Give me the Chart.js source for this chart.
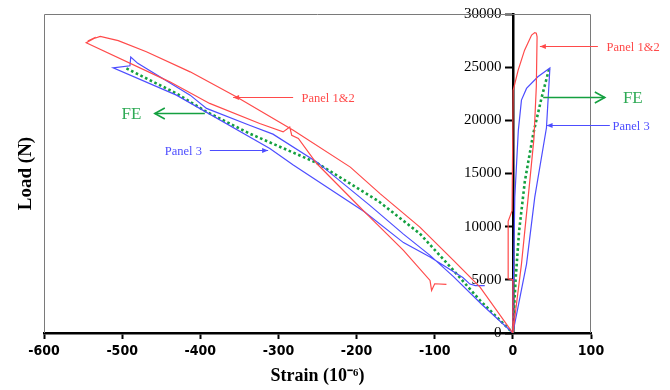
<!DOCTYPE html>
<html><head><meta charset="utf-8">
<script src="https://cdn.jsdelivr.net/npm/chart.js@4.4.1/dist/chart.umd.min.js"></script>
<style>html,body{margin:0;padding:0;background:#fff}canvas{display:block}</style>
</head><body>
<canvas id="c" width="670" height="390"></canvas>
<script>
// ---- data (strain in 1e-6, load in N) ----
const xTicks = [-600, -500, -400, -300, -200, -100, 0, 100];
const yTicks = [0, 5000, 10000, 15000, 20000, 25000, 30000];

const panel12Strain = [-85, -100, -104, -106, -140, -183, -196, -251, -274.5, -283, -285.5, -294, -324, -388, -439, -546, -536, -544, -534, -540, -528, -505, -469, -413, -354, -281, -208, -170, -119, -76, -42, 0,
  0, -6, -6, -1, 0.4, 6.8, 15, 24, 28, 30, 31, 30, 27, 19.6, 11, 0];
const panel12Load = [4570, 4630, 4000, 4940, 7770, 10900, 11850, 15940, 18290, 18600, 19380, 18910, 19700, 21590, 23620, 27300, 27700, 27450, 27800, 27600, 27900, 27500, 26450, 24560, 22210, 19070, 15600, 13110, 9960, 6830, 4310, 0,
  5000, 5100, 10500, 11500, 22830, 24720, 26600, 28020, 28250, 28200, 27860, 23140, 18300, 12760, 6480, 0];

const panel3Strain = [-36, -48, -55, -64, -106, -140, -190, -281, -311, -430.5, -511.5, -490, -489, -480, -413, -392, -337, -307, -251, -183, -140, -106, -76, -40, 0,
  0.5, 3, 0.8, 2.5, 7, 11, 17.5, 32, 47.4, 43, 28, 17.5, 0];
const panel3Load = [4450, 4450, 4600, 5220, 7140, 8500, 11400, 15810, 17350, 22370, 24940, 25130, 25950, 25360, 22370, 21120, 19540, 18700, 16090, 12000, 9300, 7300, 5300, 2700, 0,
  5000, 5000, 5000, 12760, 19060, 21900, 23000, 24100, 24930, 19300, 12760, 6480, 0];

const feStrain = [-494.5, -430.5, -392, -337, -251, -172, -119, -76, -42, 0, 3.5, 8, 15.4, 26, 37, 46.5];
const feLoad = [24880, 22530, 20800, 18760, 16000, 12400, 9340, 5890, 3060, 0, 5000, 9600, 14300, 18700, 22200, 24870];

// ---- annotations (in data units) ----
const noteText = ['Panel 1&2', 'FE', 'Panel 3', 'Panel 1&2', 'FE', 'Panel 3'];
const noteY = [27000, 22150, 19540, 22210, 20650, 17190];
const noteTail = [108.8, 38.8, 124.1, -281.2, -394.2, -387.8];
const noteTip = [34.6, 117.7, 43.1, -358, -458.2, -313.2];
const noteTextX = [119.9, 140.8, 127.6, -270.4, -500.8, -445.4];
const noteKind = ['panel12', 'fe', 'panel3', 'panel12', 'fe', 'panel3'];

const RED = '#ff4a4a', BLUE = '#4d4dff', GREEN = '#14a040', GREEN_T = '#2eaa55';
const kindColor = {panel12: RED, fe: GREEN, panel3: BLUE};
const kindText = {panel12: RED, fe: GREEN_T, panel3: BLUE};

const toPts = (xs, ys) => xs.map((v, i) => ({x: v, y: ys[i]}));

const framePlugin = {
  id: 'frame',
  beforeDatasetsDraw(chart) {
    const {ctx, chartArea: a} = chart;
    ctx.save();
    ctx.strokeStyle = '#7a7a7a';
    ctx.lineWidth = 1;
    ctx.beginPath();
    ctx.moveTo(a.left + 0.5, a.bottom);
    ctx.lineTo(a.left + 0.5, a.top + 0.5);
    ctx.lineTo(a.right - 0.5, a.top + 0.5);
    ctx.lineTo(a.right - 0.5, a.bottom);
    ctx.stroke();
    ctx.restore();
  }
};

const notePlugin = {
  id: 'notes',
  afterDatasetsDraw(chart) {
    const {ctx, scales: {x, y}} = chart;
    ctx.save();
    noteText.forEach((t, i) => {
      const k = noteKind[i];
      const py = Math.round(y.getPixelForValue(noteY[i])) + 0.5;
      const x0 = x.getPixelForValue(noteTail[i]);
      const x1 = x.getPixelForValue(noteTip[i]);
      const dir = Math.sign(x1 - x0);
      ctx.strokeStyle = kindColor[k];
      ctx.fillStyle = kindColor[k];
      ctx.lineWidth = k === 'fe' ? 1.6 : 1.1;
      ctx.beginPath();
      ctx.moveTo(x0, py); ctx.lineTo(x1, py); ctx.stroke();
      if (k === 'fe') {
        ctx.beginPath();
        ctx.moveTo(x1 - dir * 10, py - 5.5);
        ctx.lineTo(x1, py);
        ctx.lineTo(x1 - dir * 10, py + 5.5);
        ctx.stroke();
      } else {
        ctx.beginPath();
        ctx.moveTo(x1, py);
        ctx.lineTo(x1 - dir * 6, py - 2.5);
        ctx.lineTo(x1 - dir * 6, py + 2.5);
        ctx.closePath();
        ctx.fill();
      }
      ctx.fillStyle = kindText[k];
      ctx.font = (k === 'fe' ? '17px' : '12.5px') + " 'Liberation Serif', 'Times New Roman', serif";
      ctx.textAlign = 'left';
      ctx.textBaseline = 'middle';
      ctx.fillText(t, x.getPixelForValue(noteTextX[i]), py + 1);
    });
    ctx.restore();
  }
};

new Chart(document.getElementById('c'), {
  type: 'scatter',
  data: {
    datasets: [
      {label: 'Panel 1&2', data: toPts(panel12Strain, panel12Load), showLine: true, borderColor: RED, borderWidth: 1.2, pointRadius: 0, tension: 0},
      {label: 'Panel 3', data: toPts(panel3Strain, panel3Load), showLine: true, borderColor: BLUE, borderWidth: 1.2, pointRadius: 0, tension: 0},
      {label: 'FE', data: toPts(feStrain, feLoad), showLine: true, borderColor: GREEN, borderWidth: 2.6, borderDash: [2.6, 2.6], pointRadius: 0, tension: 0}
    ]
  },
  options: {
    responsive: false,
    animation: false,
    devicePixelRatio: 1,
    layout: {padding: {left: 0, right: 79, top: 14, bottom: 0}},
    plugins: {legend: {display: false}, tooltip: {enabled: false}},
    scales: {
      x: {
        type: 'linear', position: 'bottom', min: -600, max: 100,
        afterBuildTicks: s => { s.ticks = xTicks.map(v => ({value: v})); },
        afterFit: s => { s.height = 57; },
        ticks: {color: '#000', padding: 4, maxRotation: 0, callback: v => String(v), font: {family: "'Liberation Sans Narrow', 'DejaVu Sans Condensed', sans-serif", size: 14, weight: 'bold'}},
        grid: {drawOnChartArea: false, drawTicks: true, tickLength: 6, tickColor: '#000', tickWidth: 2},
        border: {color: '#000', width: 2.5},
        title: {display: true, text: 'Strain (10\u207B\u2076)', color: '#000', padding: {top: 0, bottom: 3}, font: {family: "'Liberation Serif', 'Times New Roman', serif", size: 18, weight: 'bold'}}
      },
      y: {
        type: 'linear', position: {x: 0}, min: 0, max: 30000,
        afterBuildTicks: s => { s.ticks = yTicks.map(v => ({value: v})); },
        ticks: {color: '#000', padding: 2, callback: v => String(v) + '   ', font: {family: "'Liberation Serif', 'Times New Roman', serif", size: 15}},
        grid: {drawOnChartArea: false, drawTicks: true, tickLength: 7, tickColor: '#000', tickWidth: 2},
        border: {color: '#000', width: 2.5}
      },
      yl: {
        type: 'linear', position: 'left', min: 0, max: 30000,
        afterFit: s => { s.width = 44; },
        ticks: {display: false},
        grid: {display: false},
        border: {display: false},
        title: {display: true, text: 'Load (N)', color: '#000', padding: {top: 15, bottom: 0}, font: {family: "'Liberation Serif', 'Times New Roman', serif", size: 19, weight: 'bold'}}
      }
    }
  },
  plugins: [framePlugin, notePlugin]
});
</script>
</body></html>
